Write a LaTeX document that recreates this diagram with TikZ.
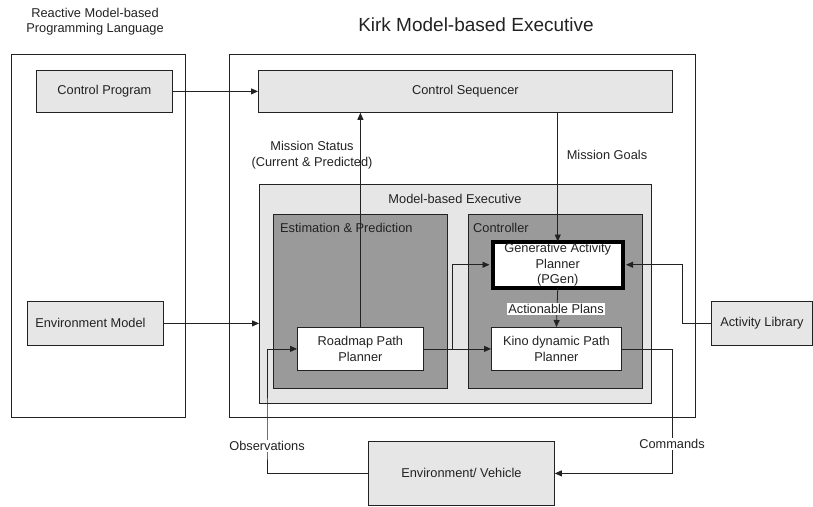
\documentclass[tikz,border=0pt]{standalone}
\usepackage{fontspec}
\setmainfont{Liberation Sans}
\usetikzlibrary{arrows.meta}
\definecolor{lightg}{HTML}{E6E6E6}
\definecolor{darkg}{HTML}{9A9A9A}
\definecolor{ln}{HTML}{222222}
\begin{document}
\begin{tikzpicture}[x=1pt,y=-1pt,
  every node/.style={font=\fontsize{12.8}{15.5}\selectfont, text=ln},
  frame/.style={draw=ln, line width=.8pt, inner sep=0pt, anchor=north west, align=center},
  lbl/.style={inner sep=1pt, align=center},
  conn/.style={draw=ln, line width=.8pt, -{Triangle[length=7pt,width=6pt]}}
]
\useasboundingbox (0,0) rectangle (813,506);
% titles
\node[lbl] (t1) at (95,21.5) {Reactive Model-based\\Programming Language};
\node[lbl, font=\fontsize{19}{22}\selectfont] (t2) at (476,25) {Kirk Model-based Executive};
% outer frames
\node[frame, minimum width=174pt, minimum height=363pt] (lf) at (11,54) {};
\node[frame, minimum width=466pt, minimum height=363pt] (rf) at (229,54) {};
% top boxes
\node[frame, fill=lightg, minimum width=136pt, minimum height=42pt] (cp) at (36,70) {Control Program};
\node[frame, fill=lightg, minimum width=414pt, minimum height=42pt] (cs) at (258,70) {Control Sequencer};
% model-based executive
\node[frame, fill=lightg, minimum width=392pt, minimum height=219pt] (mbe) at (259,184) {};
\node[lbl] (mbel) at (455,199) {Model-based Executive};
\node[frame, fill=darkg, minimum width=174pt, minimum height=174pt] (est) at (273,214) {};
\node[lbl, anchor=west] (estl) at (279,228) {Estimation \& Prediction};
\node[frame, fill=darkg, minimum width=174pt, minimum height=174pt] (ctl) at (468,214) {};
\node[lbl, anchor=west] (ctll) at (472,228) {Controller};
% planners
\node[frame, draw=black, fill=white, line width=3.5pt, minimum width=130pt, minimum height=46pt] (pg) at (491,240) {Generative Activity\\Planner\\(PGen)};
\node[frame, fill=white, minimum width=130pt, minimum height=43pt] (kd) at (491,327) {Kino dynamic Path\\Planner};
\node[frame, fill=white, minimum width=126pt, minimum height=43pt] (rm) at (297,327) {Roadmap Path\\Planner};
% side boxes
\node[frame, fill=lightg, minimum width=136pt, minimum height=44pt] (em) at (27,301) {\hspace*{-10pt}Environment Model};
\node[frame, fill=lightg, minimum width=101pt, minimum height=44pt] (al) at (711,301) {Activity Library};
\node[frame, fill=lightg, minimum width=186pt, minimum height=64pt] (ev) at (368,441) {Environment/ Vehicle};
% connectors
\coordinate (br) at (452,348.5);
\coordinate (alc) at (682,323);
\coordinate (cmdc) at (672,444);
\coordinate (obsc) at (267,446);
\draw[conn] (cp.east) -- (cs.west);
\draw[conn] (rm.north) -- (rm.north |- cs.south);
\draw[conn] (cs.south -| pg.north) -- ([yshift=-1.5pt]pg.north);
\draw[conn] (em.east) -- (em.east -| mbe.west);
\draw[conn] (rm.east) -- (kd.west);
\draw[conn] (br) |- ([xshift=-1.5pt]pg.west);
\draw[conn] (al.west) -| (alc) |- ([xshift=1.5pt]pg.east);
\draw[conn] ([yshift=1.5pt]pg.south) -- (kd.north);
\draw[conn] (kd.east) -| (cmdc) |- (ev.east);
\draw[conn] (ev.west) -| (obsc) |- (rm.west);
% labels
\node[lbl] (ms) at (312,155) {Mission Status\\(Current \& Predicted)};
\node[lbl] (mg) at (607,155) {Mission Goals};
\node[lbl, fill=white] (ap) at (556,309) {Actionable Plans};
\node[lbl, fill=white] (cmd) at (cmdc) {Commands};
\node[lbl, fill=white] (obs) at (obsc) {Observations};
\end{tikzpicture}
\end{document}
